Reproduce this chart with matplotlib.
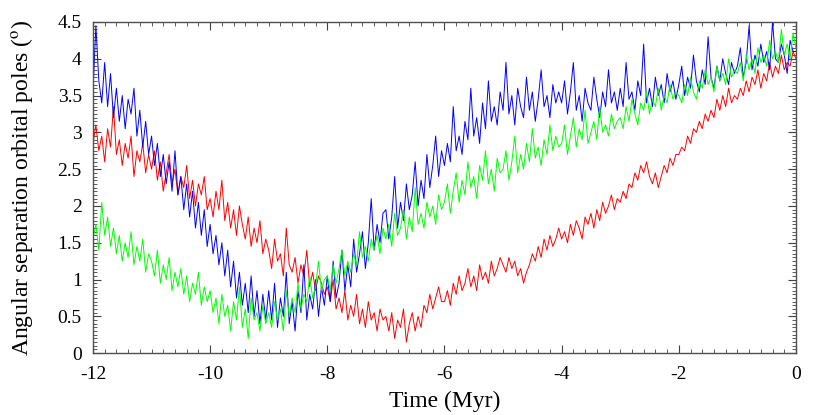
import numpy as np
import matplotlib.pyplot as plt
from matplotlib.ticker import MultipleLocator, FormatStrFormatter

plt.rcParams['font.family'] = ['Liberation Serif', 'DejaVu Serif']
plt.rcParams['mathtext.fontset'] = 'stix'
plt.rcParams['axes.unicode_minus'] = False

# time grid, 0.05 Myr steps from -12 to 0
time = np.linspace(-12, 0, 241)

# angular separation of orbital poles (deg)
blue = [
    3.55, 4.45, 3.70, 3.40, 3.95, 3.35, 3.80, 3.20, 3.60, 3.15, 3.50, 3.05, 3.45, 3.25, 3.60, 2.95, 3.30, 2.80, 3.15, 2.70,
    2.95, 2.55, 2.85, 2.40, 2.70, 2.30, 2.60, 2.20, 2.75, 2.15, 2.40, 1.95, 2.30, 1.85, 2.20, 1.70, 2.05, 1.60, 1.95, 1.45,
    1.75, 1.35, 1.60, 1.20, 1.50, 1.05, 1.40, 0.90, 1.25, 0.75, 1.10, 0.65, 0.95, 0.55, 1.05, 0.50, 0.85, 0.40, 0.80, 0.45,
    0.85, 0.45, 0.95, 0.35, 0.75, 0.50, 1.10, 0.40, 0.70, 0.30, 0.85, 0.55, 1.20, 0.45, 0.80, 0.60, 1.00, 0.50, 0.90, 0.65,
    1.05, 0.70, 1.25, 0.75, 0.95, 1.40, 0.85, 1.20, 0.90, 1.55, 1.10, 1.35, 1.65, 1.15, 1.50, 2.10, 1.40, 1.75, 1.50, 1.90,
    1.95, 1.55, 1.85, 2.40, 1.70, 2.05, 1.80, 2.30, 1.95, 2.15, 2.60, 2.00, 2.35, 2.10, 2.70, 2.25, 2.55, 2.95, 2.40, 2.75,
    2.55, 2.85, 2.60, 3.35, 2.75, 2.95, 2.70, 3.15, 2.90, 3.60, 2.95, 3.20, 2.85, 3.40, 3.05, 3.70, 3.15, 3.35, 3.10, 3.55,
    3.30, 3.95, 3.25, 3.50, 3.10, 3.60, 3.35, 3.20, 3.75, 3.30, 3.55, 3.15, 3.45, 3.85, 3.35, 3.50, 3.20, 3.65, 3.40, 3.55,
    3.40, 3.70, 3.25, 3.55, 3.95, 3.30, 3.50, 3.15, 3.60, 3.40, 3.30, 3.75, 3.45, 3.20, 3.55, 3.35, 3.85, 3.40, 3.55, 3.30,
    3.60, 3.35, 3.95, 3.45, 3.55, 3.30, 3.70, 3.50, 4.20, 3.40, 3.60, 3.35, 3.75, 3.50, 3.65, 3.40, 3.80, 3.55, 3.70, 3.45,
    3.65, 3.90, 3.50, 3.75, 3.60, 4.05, 3.70, 3.55, 3.85, 3.65, 4.30, 3.75, 3.60, 3.90, 3.70, 4.00, 3.80, 3.65, 3.95, 3.80,
    3.90, 4.15, 3.75, 3.95, 4.45, 3.85, 4.05, 3.90, 4.20, 3.95, 4.10, 3.85, 4.50, 4.00, 3.95, 4.20, 4.05, 3.80, 4.25, 4.10,
    4.10,
]
red = [
    2.85, 3.10, 2.75, 2.95, 2.60, 3.05, 2.80, 3.35, 2.70, 2.90, 2.55, 2.85, 2.65, 2.95, 2.40, 2.75, 2.60, 2.85, 2.45, 2.70,
    2.50, 2.75, 2.35, 2.60, 2.20, 2.45, 2.70, 2.30, 2.50, 2.15, 2.40, 2.25, 2.55, 2.10, 2.35, 2.00, 2.30, 2.15, 2.40, 1.95,
    2.10, 1.85, 2.20, 1.95, 2.35, 1.80, 2.05, 1.70, 1.95, 1.60, 2.00, 1.75, 1.55, 1.85, 1.45, 1.70, 1.50, 1.80, 1.35, 1.55,
    1.40, 1.15, 1.55, 1.25, 1.35, 1.05, 1.70, 1.20, 1.10, 1.30, 0.95, 1.20, 1.05, 1.40, 0.90, 1.10, 0.85, 1.05, 0.95, 0.80,
    0.90, 0.70, 1.00, 0.60, 0.75, 0.55, 0.85, 0.45, 0.65, 0.50, 0.80, 0.40, 0.60, 0.35, 0.70, 0.45, 0.55, 0.30, 0.60, 0.45,
    0.50, 0.30, 0.55, 0.20, 0.45, 0.35, 0.60, 0.15, 0.40, 0.55, 0.30, 0.50, 0.35, 0.65, 0.55, 0.80, 0.60, 0.75, 0.90, 0.70,
    0.70, 0.85, 0.65, 0.95, 0.80, 1.05, 0.85, 0.95, 1.15, 0.90, 1.05, 0.85, 1.20, 1.00, 1.10, 0.95, 1.25, 1.05, 1.15, 1.30,
    1.20, 1.10, 1.30, 1.15, 1.25, 1.05, 1.15, 0.95, 1.10, 1.20, 1.35, 1.25, 1.45, 1.30, 1.55, 1.40, 1.60, 1.45, 1.55, 1.70,
    1.55, 1.65, 1.50, 1.75, 1.60, 1.80, 1.70, 1.55, 1.85, 1.75, 1.90, 1.70, 1.95, 1.80, 2.05, 1.90, 2.00, 2.15, 1.95, 2.10,
    2.05, 2.20, 2.10, 2.30, 2.25, 2.45, 2.35, 2.55, 2.45, 2.60, 2.40, 2.30, 2.45, 2.25, 2.40, 2.55, 2.45, 2.65, 2.55, 2.70,
    2.70, 2.80, 2.75, 2.95, 2.85, 3.05, 3.00, 3.15, 3.05, 3.25, 3.15, 3.30, 3.20, 3.45, 3.30, 3.50, 3.35, 3.60, 3.40, 3.50,
    3.45, 3.60, 3.50, 3.70, 3.55, 3.75, 3.65, 3.85, 3.60, 3.80, 3.70, 3.95, 3.75, 3.90, 3.80, 4.05, 3.85, 3.95, 3.90, 4.10,
    4.00,
]
green = [
    1.55, 1.75, 1.40, 2.05, 1.60, 1.85, 1.45, 1.70, 1.35, 1.60, 1.25, 1.50, 1.30, 1.65, 1.20, 1.45, 1.25, 1.55, 1.10, 1.35,
    1.25, 1.05, 1.40, 0.95, 1.20, 1.00, 1.30, 0.85, 1.10, 0.90, 1.15, 0.80, 1.05, 0.70, 0.95, 0.80, 1.10, 0.65, 0.90, 0.70,
    0.85, 0.55, 0.75, 0.40, 0.80, 0.50, 0.65, 0.30, 0.70, 0.45, 0.90, 0.35, 0.60, 0.20, 0.75, 0.45, 0.55, 0.30, 0.65, 0.40,
    0.55, 0.35, 0.70, 0.45, 0.60, 0.30, 0.85, 0.50, 0.75, 0.55, 0.95, 0.60, 0.80, 0.70, 1.05, 0.75, 0.90, 1.25, 0.85, 1.00,
    1.05, 0.85, 1.20, 0.95, 1.15, 1.40, 1.05, 1.25, 1.10, 1.35, 1.20, 1.65, 1.30, 1.45, 1.25, 1.55, 1.40, 1.60, 1.35, 1.70,
    1.55, 1.75, 1.45, 1.90, 1.60, 1.70, 1.95, 1.55, 1.85, 1.65, 2.25, 1.75, 1.90, 1.70, 2.05, 1.85, 2.00, 1.75, 2.15, 1.95,
    2.05, 2.30, 1.90, 2.20, 2.45, 2.05, 2.35, 2.15, 2.60, 2.25, 2.40, 2.10, 2.55, 2.35, 2.75, 2.30, 2.50, 2.20, 2.65, 2.45,
    2.50, 2.75, 2.35, 2.60, 2.95, 2.45, 2.70, 2.50, 2.85, 2.60, 3.05, 2.65, 2.80, 2.55, 2.90, 2.70, 3.10, 2.75, 2.95, 2.80,
    2.85, 3.10, 2.70, 2.95, 3.20, 2.80, 3.05, 2.90, 3.30, 2.85, 3.00, 3.15, 2.90, 3.35, 3.00, 3.10, 2.95, 3.25, 3.05, 3.15,
    3.20, 3.05, 3.35, 3.15, 3.45, 3.25, 3.10, 3.40, 3.30, 3.55, 3.25, 3.45, 3.35, 3.60, 3.30, 3.50, 3.40, 3.65, 3.45, 3.55,
    3.50, 3.40, 3.65, 3.50, 3.75, 3.55, 3.45, 3.70, 3.60, 3.85, 3.65, 3.75, 3.55, 3.90, 3.70, 3.80, 3.65, 4.00, 3.75, 3.85,
    3.80, 3.95, 3.70, 4.05, 3.85, 4.00, 3.80, 4.15, 3.95, 4.05, 3.90, 4.25, 4.00, 4.10, 3.95, 4.40, 4.05, 4.20, 4.00, 4.35,
    4.15,
]

fig = plt.figure(figsize=(8.3, 4.15), dpi=100)
ax = fig.add_axes([0.112, 0.149, 0.847, 0.798])

ax.plot(time, red, color='#ff0000', lw=0.7)
ax.plot(time, blue, color='#0000ff', lw=0.7)
ax.plot(time, green, color='#00ff00', lw=0.7)

ax.set_xlim(-12, 0)
ax.set_ylim(0, 4.5)
ax.xaxis.set_major_locator(MultipleLocator(2))
ax.xaxis.set_minor_locator(MultipleLocator(0.2))
ax.yaxis.set_major_locator(MultipleLocator(0.5))
ax.yaxis.set_minor_locator(MultipleLocator(0.05))
ax.yaxis.set_major_formatter(FormatStrFormatter('%g'))
ax.tick_params(which='both', direction='in', top=True, right=True,
               color='#404040', labelsize=14)
ax.tick_params(axis='x', pad=9)
ax.tick_params(axis='y', pad=8)
ax.tick_params(which='major', length=6, width=0.8)
ax.tick_params(which='minor', length=3, width=0.6)
for s in ax.spines.values():
    s.set_color('#505050')
    s.set_linewidth(1.0)

ax.set_xlabel('Time (Myr)', fontsize=17, labelpad=6)
ax.set_ylabel(r'Angular separation orbital poles ($^{\rm o}$)', fontsize=17, labelpad=16)

fig.savefig('out.png', dpi=100)
